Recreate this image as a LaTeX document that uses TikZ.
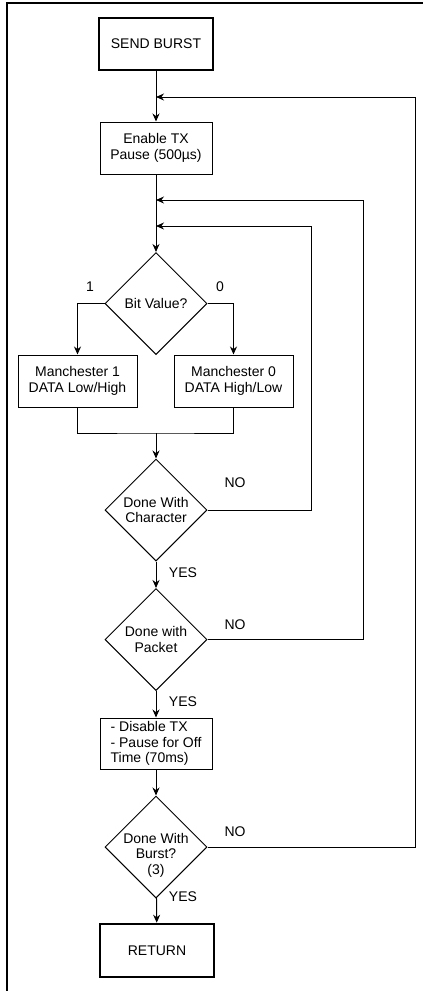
\documentclass[tikz,border=0pt]{standalone}
\usepackage{fontspec}
\setmainfont{Liberation Sans}
\usetikzlibrary{shapes.geometric,arrows.meta}
\begin{document}
\begin{tikzpicture}[x=1pt,y=-1pt,
    font=\fontsize{14}{15.5}\selectfont,
    box/.style={draw,line width=1pt,minimum width=112pt,minimum height=52pt,inner sep=0pt,align=center},
    endbox/.style={box,line width=2.6pt,minimum width=114pt},
    decision/.style={draw,line width=1pt,diamond,aspect=1,minimum width=102pt,minimum height=102pt,inner sep=-12pt,align=center},
    line/.style={line width=1pt},
    arrow/.style={line,-{Stealth[length=8pt,width=7pt]}}]
        \useasboundingbox (0,0) rectangle (423,991);
        % Frame
        \draw[line width=1.3pt] (7,991) -- (7,3) -- (423,3);
        % Boxes
        \node[endbox] (send) at (156,44) {SEND BURST};
        \node[box] (enable) at (156,148) {Enable TX\\Pause (500µs)};
        \node[box,minimum width=119pt] (man1) at (77.5,381) {Manchester 1\\DATA Low/High};
        \node[box,minimum width=119pt] (man0) at (233.5,381) {Manchester 0\\DATA High/Low};
        \node[box,align=left,minimum height=51pt] (disable) at (156,743.5) {- Disable TX\\- Pause for Off\\Time (70ms)};
        \node[endbox,minimum height=53pt] (ret) at (157,950.5) {RETURN};
        % Decisions
        \node[decision] (bit) at (156,303.5) {Bit Value?};
        \node[decision] (char) at (156,510) {Done With\\Character};
        \node[decision] (packet) at (156,639.5) {Done with\\Packet};
        \node[decision] (burst) at (156,847) {};
        \node[align=center] (bursttext) at (156,855) {Done With\\Burst?\\(3)};
        % Loop entry points
        \coordinate (in3) at (156,97);
        \coordinate (in2) at (156,200);
        \coordinate (in1) at (156,226);
        \coordinate (r3) at (415,97);
        \coordinate (r2) at (363,200);
        \coordinate (r1) at (311,226);
        \coordinate (join) at (156,433);
        % Main flow
        \draw[arrow] (send) -- (enable);
        \draw[arrow] (enable) -- (bit);
        \draw[arrow] (bit.west) -| (man1.north);
        \draw[arrow] (bit.east) -| (man0.north);
        \draw[line] (man1.south) |- (join) -| (man0.south);
        \draw[arrow] (join) -- (char.north);
        \draw[arrow] (char) -- (packet);
        \draw[arrow] (packet) -- (disable);
        \draw[arrow] (disable) -- (burst);
        \draw[arrow] (burst) -- (ret);
        % Loop back arrows
        \draw[arrow] (char.east) -| (r1) -- (in1);
        \draw[arrow] (packet.east) -| (r2) -- (in2);
        \draw[arrow] (burst.east) -| (r3) -- (in3);
        % Labels
        \node (one) at (90,287) {1};
        \node (zero) at (220,287) {0};
        \node (no1) at (235,483) {NO};
        \node (no2) at (235,625) {NO};
        \node (no3) at (235,832) {NO};
        \node (yes1) at (183,573) {YES};
        \node (yes2) at (183,702) {YES};
        \node (yes3) at (183,897) {YES};
    \end{tikzpicture}
\end{document}
